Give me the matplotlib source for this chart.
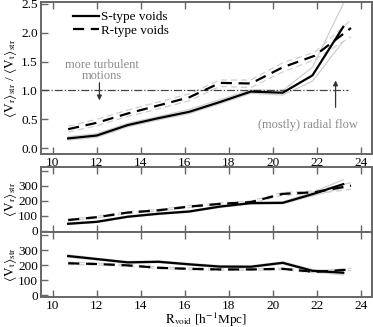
import matplotlib
matplotlib.use("Agg")
import matplotlib.pyplot as plt

plt.rcParams["font.family"] = ["Liberation Serif", "DejaVu Serif"]
plt.rcParams["mathtext.fontset"] = "stix"
plt.rcParams["font.size"] = 9.5

# void radius bins
r_s = [10.7, 12.0, 13.4, 14.8, 16.2, 17.6, 19.0, 20.45, 21.8, 23.2]
r_r = [10.7, 12.0, 13.4, 14.8, 16.2, 17.6, 19.0, 20.45, 21.9, 23.55]

# <Vr>/<Vt>
ratio_s = [0.17, 0.22, 0.40, 0.52, 0.63, 0.80, 0.98, 0.96, 1.26, 2.10]
ratio_s_hi = [0.20, 0.25, 0.43, 0.55, 0.67, 0.84, 1.01, 1.00, 1.40, 2.50]
ratio_s_lo = [0.14, 0.19, 0.37, 0.49, 0.60, 0.77, 0.95, 0.92, 1.16, 1.85]
ratio_r = [0.33, 0.44, 0.60, 0.74, 0.88, 1.13, 1.12, 1.40, 1.60, 2.08]
ratio_r_hi = [0.38, 0.50, 0.66, 0.80, 0.94, 1.18, 1.18, 1.48, 1.66, 2.22]
ratio_r_lo = [0.28, 0.39, 0.55, 0.68, 0.82, 1.07, 1.05, 1.32, 1.53, 1.93]

# <Vr>
vr_s = [45, 58, 92, 112, 127, 160, 183, 185, 243, 310]
vr_s_hi = [50, 63, 97, 117, 132, 166, 189, 192, 255, 340]
vr_s_lo = [40, 53, 87, 107, 122, 154, 177, 178, 232, 285]
vr_r = [70, 89, 120, 135, 160, 178, 190, 245, 256, 300]
vr_r_hi = [76, 95, 126, 141, 167, 185, 198, 254, 265, 320]
vr_r_lo = [64, 83, 114, 129, 153, 171, 182, 236, 246, 275]

# <Vt>
vt_s = [260, 240, 218, 222, 205, 190, 189, 215, 162, 149]
vt_s_hi = [268, 246, 224, 228, 211, 196, 195, 222, 170, 160]
vt_s_lo = [252, 234, 212, 216, 199, 184, 183, 208, 155, 135]
vt_r = [212, 207, 198, 182, 175, 171, 171, 175, 155, 171]
vt_r_hi = [220, 213, 204, 188, 181, 177, 177, 181, 162, 178]
vt_r_lo = [204, 201, 192, 176, 169, 165, 165, 169, 148, 164]

XTICKS = [10, 12, 14, 16, 18, 20, 22, 24]
SPINE = "#666666"
BAND = "#cfcfcf"
LABEL_X = -0.066


def style(ax):
    for s in ax.spines.values():
        s.set_color(SPINE)
        s.set_linewidth(1.4)
    ax.tick_params(direction="in", top=True, color=SPINE, length=5, width=1,
                   pad=2)
    ax.set_xlim(9.45, 24.5)
    ax.set_xticks(XTICKS)
    ax.yaxis.set_label_coords(LABEL_X, 0.5)


def draw(ax, xs, y, hi, lo, ls):
    ax.plot(xs, hi, color=BAND, lw=0.9, ls=ls, zorder=1)
    ax.plot(xs, lo, color=BAND, lw=0.9, ls=ls, zorder=1)
    return ax.plot(xs, y, color="black", lw=1.6, ls=ls, zorder=3)[0]


fig = plt.figure(figsize=(3.73, 3.27), dpi=100)
ax1 = fig.add_axes([0.109, 0.529, 0.888, 0.465])
ax2 = fig.add_axes([0.109, 0.2905, 0.888, 0.199])
ax3 = fig.add_axes([0.109, 0.0917, 0.888, 0.199])

# top: ratio
l1 = draw(ax1, r_s, ratio_s, ratio_s_hi, ratio_s_lo, "-")
l2 = draw(ax1, r_r, ratio_r, ratio_r_hi, ratio_r_lo, (0, (5, 3)))
ax1.plot([9.45, 23.4], [1.0, 1.0], color="#444444", lw=0.9, ls="-.", zorder=2)
ax1.set_ylim(-0.1, 2.53)
ax1.set_yticks([0.0, 0.5, 1.0, 1.5, 2.0, 2.5])
ax1.set_ylabel(r"$\langle\mathrm{V_r}\rangle_\mathrm{str}$ / $\langle\mathrm{V_t}\rangle_\mathrm{str}$")
ax1.legend([l1, l2], ["S-type voids", "R-type voids"], loc="upper left",
           bbox_to_anchor=(0.07, 1.0), frameon=False, handlelength=2.0,
           handletextpad=0.1, labelspacing=0.1, borderaxespad=0.3,
           fontsize=9.5)
ax1.text(12.25, 1.35, "more turbulent\nmotions", color="#8a8a8a", ha="center",
         va="center", linespacing=0.9, fontsize=9)
ax1.annotate("", xy=(12.12, 0.78), xytext=(12.12, 1.18),
             arrowprops=dict(arrowstyle="-|>", color="#333333", lw=0.9,
                             mutation_scale=7))
ax1.text(21.6, 0.4, "(mostly) radial flow", color="#8a8a8a", ha="center",
         va="center", fontsize=9)
ax1.annotate("", xy=(22.85, 1.22), xytext=(22.85, 0.66),
             arrowprops=dict(arrowstyle="-|>", color="#333333", lw=0.9,
                             mutation_scale=7))
style(ax1)

# middle: radial velocity
draw(ax2, r_s, vr_s, vr_s_hi, vr_s_lo, "-")
draw(ax2, r_r, vr_r, vr_r_hi, vr_r_lo, (0, (5, 3)))
ax2.set_ylim(-10, 425)
ax2.set_yticks([0, 100, 200, 300, 400])
ax2.set_yticklabels(["0", "100", "200", "300", ""])
ax2.set_ylabel(r"$\langle\mathrm{V_r}\rangle_\mathrm{str}$")
style(ax2)
ax2.tick_params(labelbottom=False)

# bottom: tangential velocity
draw(ax3, r_s, vt_s, vt_s_hi, vt_s_lo, "-")
draw(ax3, r_r, vt_r, vt_r_hi, vt_r_lo, (0, (5, 3)))
ax3.set_ylim(-12, 420)
ax3.set_yticks([0, 100, 200, 300, 400])
ax3.set_yticklabels(["0", "100", "200", "300", ""])
ax3.set_ylabel(r"$\langle\mathrm{V_t}\rangle_\mathrm{str}$")
ax3.set_xlabel(r"$\mathrm{R_{void}}$ [h$^{\mathrm{-1}}$Mpc]", labelpad=-1)
style(ax3)

fig.savefig("out.png", dpi=100)
